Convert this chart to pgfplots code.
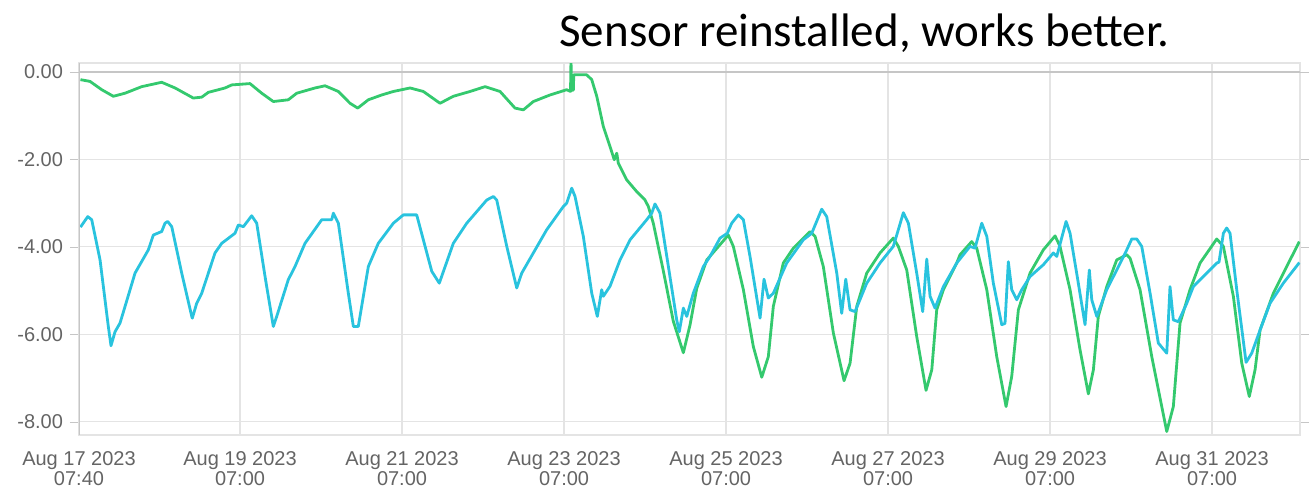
\documentclass[border=0pt]{standalone}
\usepackage{fontspec}
\setmainfont{Liberation Sans}
\newfontfamily\titlefont{Carlito}
\usepackage{pgfplots}
\pgfplotsset{compat=1.18}
\definecolor{oldGreen}{RGB}{52,201,110}
\definecolor{newCyan}{RGB}{41,195,222}
\definecolor{tickGray}{RGB}{100,100,100}
\definecolor{gridGray}{RGB}{228,228,228}

% x = days since Aug 17 2023 07:00, y = sensor value
\begin{document}
\begin{tikzpicture}
\useasboundingbox (-39.5pt,-27pt) rectangle (615pt,217.5pt);
\begin{axis}[
  scale only axis,
  width=610.5pt, height=186pt,
  xmin=0.012, xmax=15.086,
  ymin=-8.3, ymax=0.2,
  xtick={0.012,2,4,6,8,10,12,14},
  xticklabels={{Aug 17 2023\\07:40},{Aug 19 2023\\07:00},{Aug 21 2023\\07:00},
    {Aug 23 2023\\07:00},{Aug 25 2023\\07:00},{Aug 27 2023\\07:00},
    {Aug 29 2023\\07:00},{Aug 31 2023\\07:00}},
  ytick={-8,-6,-4,-2},
  yticklabels={-8.00,-6.00,-4.00,-2.00},
  extra y ticks={0},
  extra y tick labels={0.00},
  extra tick style={grid style={draw=gray!45, line width=1pt}},
  xticklabel style={font=\fontsize{10}{10}\selectfont, text=tickGray, align=center, yshift=0pt},
  yticklabel style={font=\fontsize{10}{10}\selectfont, text=tickGray},
  xtick style={draw=none},
  ytick style={draw=gray!45},
  tick align=outside,
  major tick length=4.5pt,
  grid=major,
  grid style={draw=gridGray, line width=0.6pt},
  axis line style={draw=gridGray, line width=0.6pt},
  clip=true,
]
\addplot[oldGreen, line width=1.4pt, line join=round] coordinates {
(0.030,-0.18) (0.148,-0.22) (0.293,-0.41) (0.436,-0.56) (0.580,-0.49) (0.786,-0.34)
(1.033,-0.24) (1.198,-0.37) (1.423,-0.60) (1.527,-0.58) (1.609,-0.47) (1.815,-0.37)
(1.898,-0.30) (2.123,-0.27) (2.268,-0.49) (2.411,-0.68) (2.596,-0.64) (2.700,-0.49)
(2.926,-0.37) (3.049,-0.32) (3.214,-0.45) (3.358,-0.72) (3.453,-0.83) (3.584,-0.64)
(3.749,-0.53) (3.893,-0.45) (4.099,-0.37) (4.263,-0.45) (4.469,-0.72) (4.633,-0.56)
(4.840,-0.45) (5.025,-0.34) (5.210,-0.45) (5.395,-0.83) (5.498,-0.87) (5.621,-0.68)
(5.827,-0.53) (6.033,-0.41) (6.080,-0.45) (6.086,0.30) (6.092,-0.42) (6.115,-0.42)
(6.120,-0.07) (6.157,-0.07) (6.280,-0.07) (6.342,-0.18) (6.404,-0.56) (6.485,-1.25)
(6.568,-1.71) (6.620,-2.01) (6.651,-1.86) (6.670,-2.09) (6.774,-2.47) (6.898,-2.74)
(7.000,-2.93) (7.041,-3.08) (7.102,-3.46) (7.226,-4.55) (7.349,-5.70) (7.473,-6.42)
(7.556,-5.78) (7.638,-4.95) (7.762,-4.30) (7.926,-3.95) (8.028,-3.73) (8.090,-3.99)
(8.214,-4.98) (8.337,-6.28) (8.441,-6.98) (8.522,-6.51) (8.584,-5.36) (8.707,-4.37)
(8.831,-4.03) (9.037,-3.65) (9.099,-3.76) (9.201,-4.45) (9.325,-5.97) (9.457,-7.06)
(9.531,-6.66) (9.614,-5.36) (9.737,-4.60) (9.901,-4.14) (10.065,-3.80) (10.127,-3.99)
(10.231,-4.53) (10.354,-6.05) (10.469,-7.28) (10.540,-6.81) (10.601,-5.44) (10.683,-4.98)
(10.848,-4.37) (10.889,-4.18) (11.033,-3.88) (11.095,-4.03) (11.219,-4.98) (11.342,-6.51)
(11.457,-7.65) (11.527,-6.96) (11.609,-5.44) (11.753,-4.60) (11.917,-4.07) (12.062,-3.75)
(12.123,-3.99) (12.247,-4.98) (12.370,-6.35) (12.473,-7.36) (12.535,-6.81) (12.596,-5.59)
(12.700,-4.91) (12.823,-4.30) (12.947,-4.18) (12.988,-4.26) (13.111,-4.98) (13.256,-6.51)
(13.441,-8.22) (13.522,-7.65) (13.605,-5.74) (13.728,-4.98) (13.852,-4.37) (14.058,-3.82)
(14.140,-3.99) (14.263,-5.13) (14.367,-6.66) (14.460,-7.42) (14.531,-6.81) (14.593,-5.90)
(14.757,-5.06) (14.922,-4.45) (15.078,-3.88)
};
\addplot[newCyan, line width=1.4pt, line join=round] coordinates {
(0.030,-3.55) (0.120,-3.31) (0.169,-3.38) (0.272,-4.30) (0.374,-5.82) (0.407,-6.26)
(0.457,-5.94) (0.519,-5.74) (0.704,-4.60) (0.868,-4.07) (0.930,-3.73) (1.033,-3.65)
(1.074,-3.46) (1.107,-3.42) (1.157,-3.54) (1.280,-4.60) (1.404,-5.59) (1.411,-5.63)
(1.465,-5.29) (1.527,-5.06) (1.691,-4.14) (1.774,-3.92) (1.938,-3.69) (1.979,-3.50)
(2.041,-3.54) (2.144,-3.29) (2.206,-3.46) (2.309,-4.68) (2.411,-5.82) (2.453,-5.59)
(2.596,-4.75) (2.679,-4.45) (2.802,-3.92) (3.009,-3.38) (3.132,-3.38) (3.152,-3.23)
(3.214,-3.46) (3.337,-5.06) (3.399,-5.82) (3.460,-5.82) (3.584,-4.45) (3.707,-3.92)
(3.893,-3.46) (4.016,-3.27) (4.181,-3.27) (4.263,-3.84) (4.367,-4.56) (4.460,-4.83)
(4.633,-3.92) (4.799,-3.46) (5.046,-2.93) (5.127,-2.85) (5.169,-2.93) (5.293,-3.99)
(5.416,-4.94) (5.478,-4.60) (5.621,-4.14) (5.786,-3.61) (5.991,-3.08) (6.033,-3.00)
(6.095,-2.66) (6.136,-2.85) (6.238,-3.76) (6.342,-5.06) (6.411,-5.59) (6.465,-4.98)
(6.485,-5.13) (6.568,-4.90) (6.691,-4.30) (6.815,-3.84) (7.021,-3.38) (7.083,-3.23)
(7.123,-3.02) (7.185,-3.23) (7.284,-4.40) (7.391,-5.67) (7.423,-5.94) (7.473,-5.40)
(7.515,-5.59) (7.596,-5.06) (7.720,-4.45) (7.802,-4.22) (7.926,-3.80) (8.016,-3.69)
(8.070,-3.46) (8.152,-3.27) (8.214,-3.38) (8.296,-4.22) (8.420,-5.63) (8.469,-4.74)
(8.522,-5.17) (8.584,-5.06) (8.749,-4.37) (8.954,-3.84) (9.058,-3.69) (9.181,-3.14)
(9.243,-3.31) (9.367,-4.60) (9.428,-5.52) (9.478,-4.74) (9.531,-5.44) (9.593,-5.48)
(9.737,-4.83) (9.901,-4.37) (10.065,-3.99) (10.127,-3.61) (10.189,-3.22) (10.251,-3.46)
(10.354,-4.60) (10.428,-5.48) (10.478,-4.28) (10.519,-5.13) (10.580,-5.40) (10.683,-4.91)
(10.848,-4.37) (11.012,-3.99) (11.074,-4.03) (11.157,-3.46) (11.219,-3.76) (11.300,-4.83)
(11.404,-5.78) (11.444,-5.75) (11.485,-4.34) (11.527,-4.98) (11.589,-5.21) (11.651,-4.98)
(11.753,-4.68) (11.917,-4.41) (12.041,-4.14) (12.083,-4.22) (12.198,-3.42) (12.247,-3.69)
(12.349,-4.83) (12.432,-5.78) (12.485,-4.53) (12.515,-5.21) (12.577,-5.59) (12.700,-4.98)
(12.823,-4.53) (12.947,-4.07) (13.009,-3.82) (13.070,-3.82) (13.132,-3.99) (13.235,-5.06)
(13.337,-6.20) (13.441,-6.43) (13.481,-4.91) (13.522,-5.67) (13.584,-5.71) (13.688,-5.29)
(13.769,-4.91) (13.935,-4.60) (14.058,-4.37) (14.086,-4.35) (14.140,-3.69) (14.181,-3.57)
(14.222,-3.69) (14.305,-4.98) (14.420,-6.64) (14.490,-6.43) (14.593,-5.90) (14.716,-5.29)
(14.880,-4.83) (15.078,-4.36)
};
\draw[gray!45, line width=0.8pt] (rel axis cs:0,0) -- (rel axis cs:0,1);
\end{axis}
\node[anchor=base west, inner sep=0pt, font=\titlefont\fontsize{23.5}{28}\selectfont] at (240pt,194pt) {Sensor reinstalled, works better.};
\end{tikzpicture}
\end{document}
